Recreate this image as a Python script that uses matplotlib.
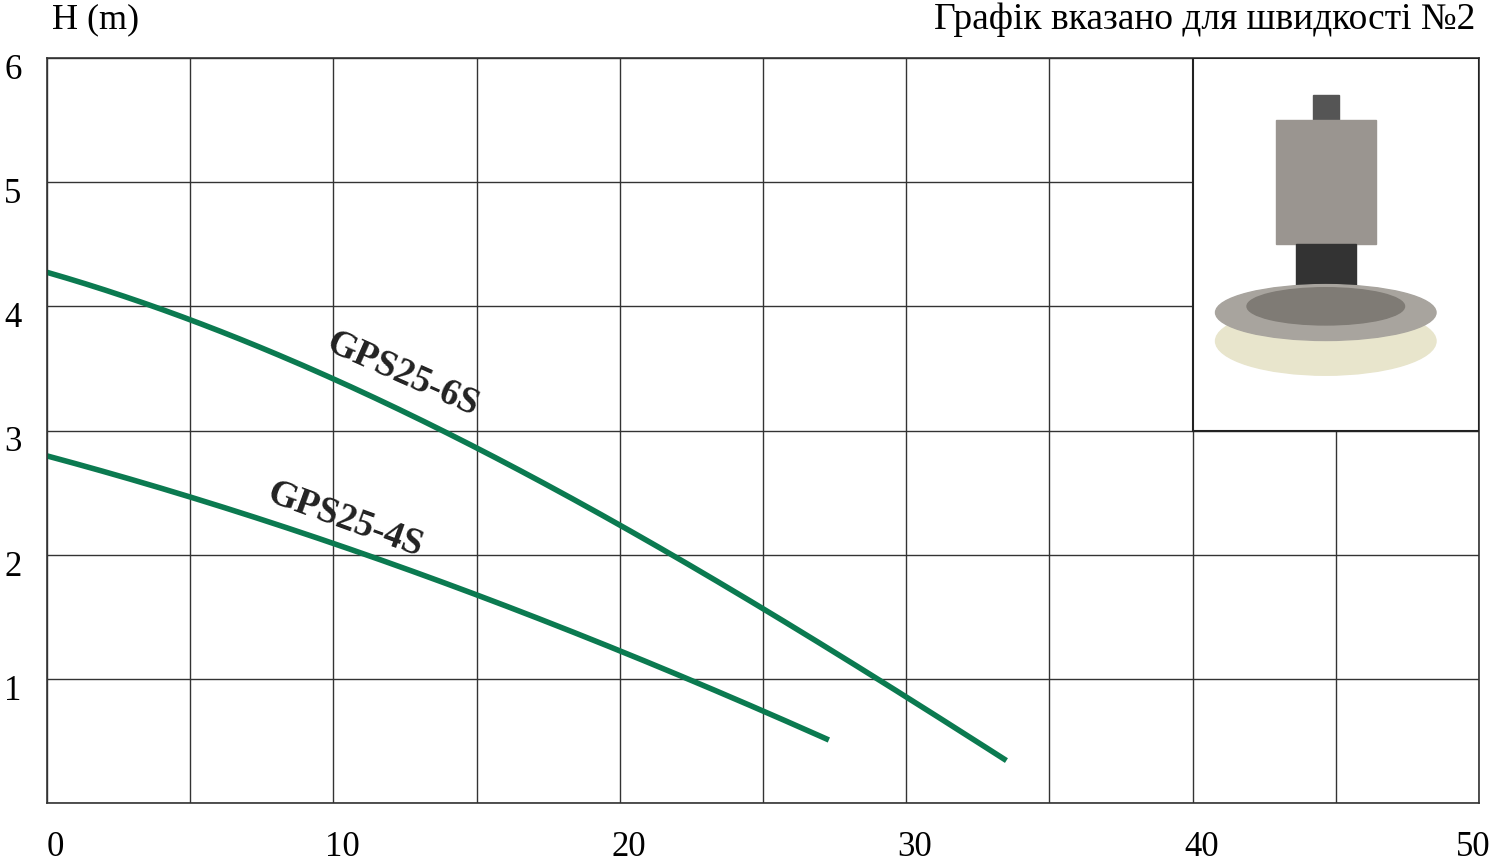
import matplotlib
matplotlib.use("Agg")
import matplotlib.pyplot as plt
import numpy as np
from matplotlib.patches import Rectangle, Ellipse

q_6s = [0, 5, 10, 15, 20, 25, 30, 33.5]
h_6s = [4.27, 3.90, 3.42, 2.84, 2.24, 1.59, 0.83, 0.35]
q_4s = [0, 5, 10, 15, 20, 25, 27.3]
h_4s = [2.79, 2.48, 2.08, 1.67, 1.23, 0.75, 0.50]
xticks = [0, 10, 20, 30, 40, 50]
yticks = [1, 2, 3, 4, 5, 6]

plt.rcParams['font.family'] = ['Liberation Serif', 'DejaVu Serif']
fig = plt.figure(figsize=(14.93, 8.64), dpi=100)
ax = fig.add_axes([47/1493, 61/864, 1432/1493, 745/864])
ax.set_xlim(0, 50); ax.set_ylim(0, 6)
ax.set_xticks(np.arange(0, 51, 5)); ax.set_yticks(np.arange(0, 7, 1))
ax.grid(True, color='#333333', lw=1)
ax.tick_params(length=0, labelbottom=False, labelleft=False)
for s in ax.spines.values():
    s.set_color('#333333'); s.set_linewidth(1.2)

def smooth(x, y):
    xs = np.linspace(x[0], x[-1], 200)
    c = np.polyfit(x, y, 3)
    return xs, np.polyval(c, xs)

green = '#0b7a50'
for q, h in [(q_6s, h_6s), (q_4s, h_4s)]:
    xs, ys = smooth(q, h)
    ax.plot(xs, ys, color=green, lw=4, solid_capstyle='butt')

ax.text(12.4, 3.45, 'GPS25-6S', rotation=-24, fontsize=27, fontweight='bold',
        color='#222222', ha='center', va='center', rotation_mode='anchor')
ax.text(10.4, 2.28, 'GPS25-4S', rotation=-20, fontsize=27, fontweight='bold',
        color='#222222', ha='center', va='center', rotation_mode='anchor')

ax.add_patch(Rectangle((40, 3), 10, 3, facecolor='white', edgecolor='#222222', lw=1.5, zorder=3))
ax.add_patch(Rectangle((44.2, 5.3), 0.9, 0.4, color='#555555', zorder=4))
ax.add_patch(Rectangle((42.9, 4.5), 3.5, 1.0, color='#9a9590', zorder=4))
ax.add_patch(Rectangle((43.6, 4.0), 2.1, 0.5, color='#333333', zorder=4))
ax.add_patch(Ellipse((44.65, 3.72), 7.7, 0.55, color='#e8e5cc', zorder=4))
ax.add_patch(Ellipse((44.65, 3.95), 7.7, 0.45, color='#a8a49e', zorder=5))
ax.add_patch(Ellipse((44.65, 4.0), 5.5, 0.3, color='#7f7b75', zorder=5))

for t in xticks:
    if t == 50:
        ax.text(50.4, -0.36, str(t), ha='right', va='center', fontsize=25)
    else:
        ax.text(t + 0.3, -0.36, str(t), ha='center', va='center', fontsize=25)
for t in yticks:
    ax.text(-1.5, t - 0.1, str(t), ha='left', va='center', fontsize=25)
fig.text(52/1493, 1 - 20/864, 'H (m)', ha='left', va='center', fontsize=26)
fig.text(1475/1493, 1 - 20/864, 'Графік вказано для швидкості №2', ha='right', va='center', fontsize=27)
fig.savefig('out.png', dpi=100)
